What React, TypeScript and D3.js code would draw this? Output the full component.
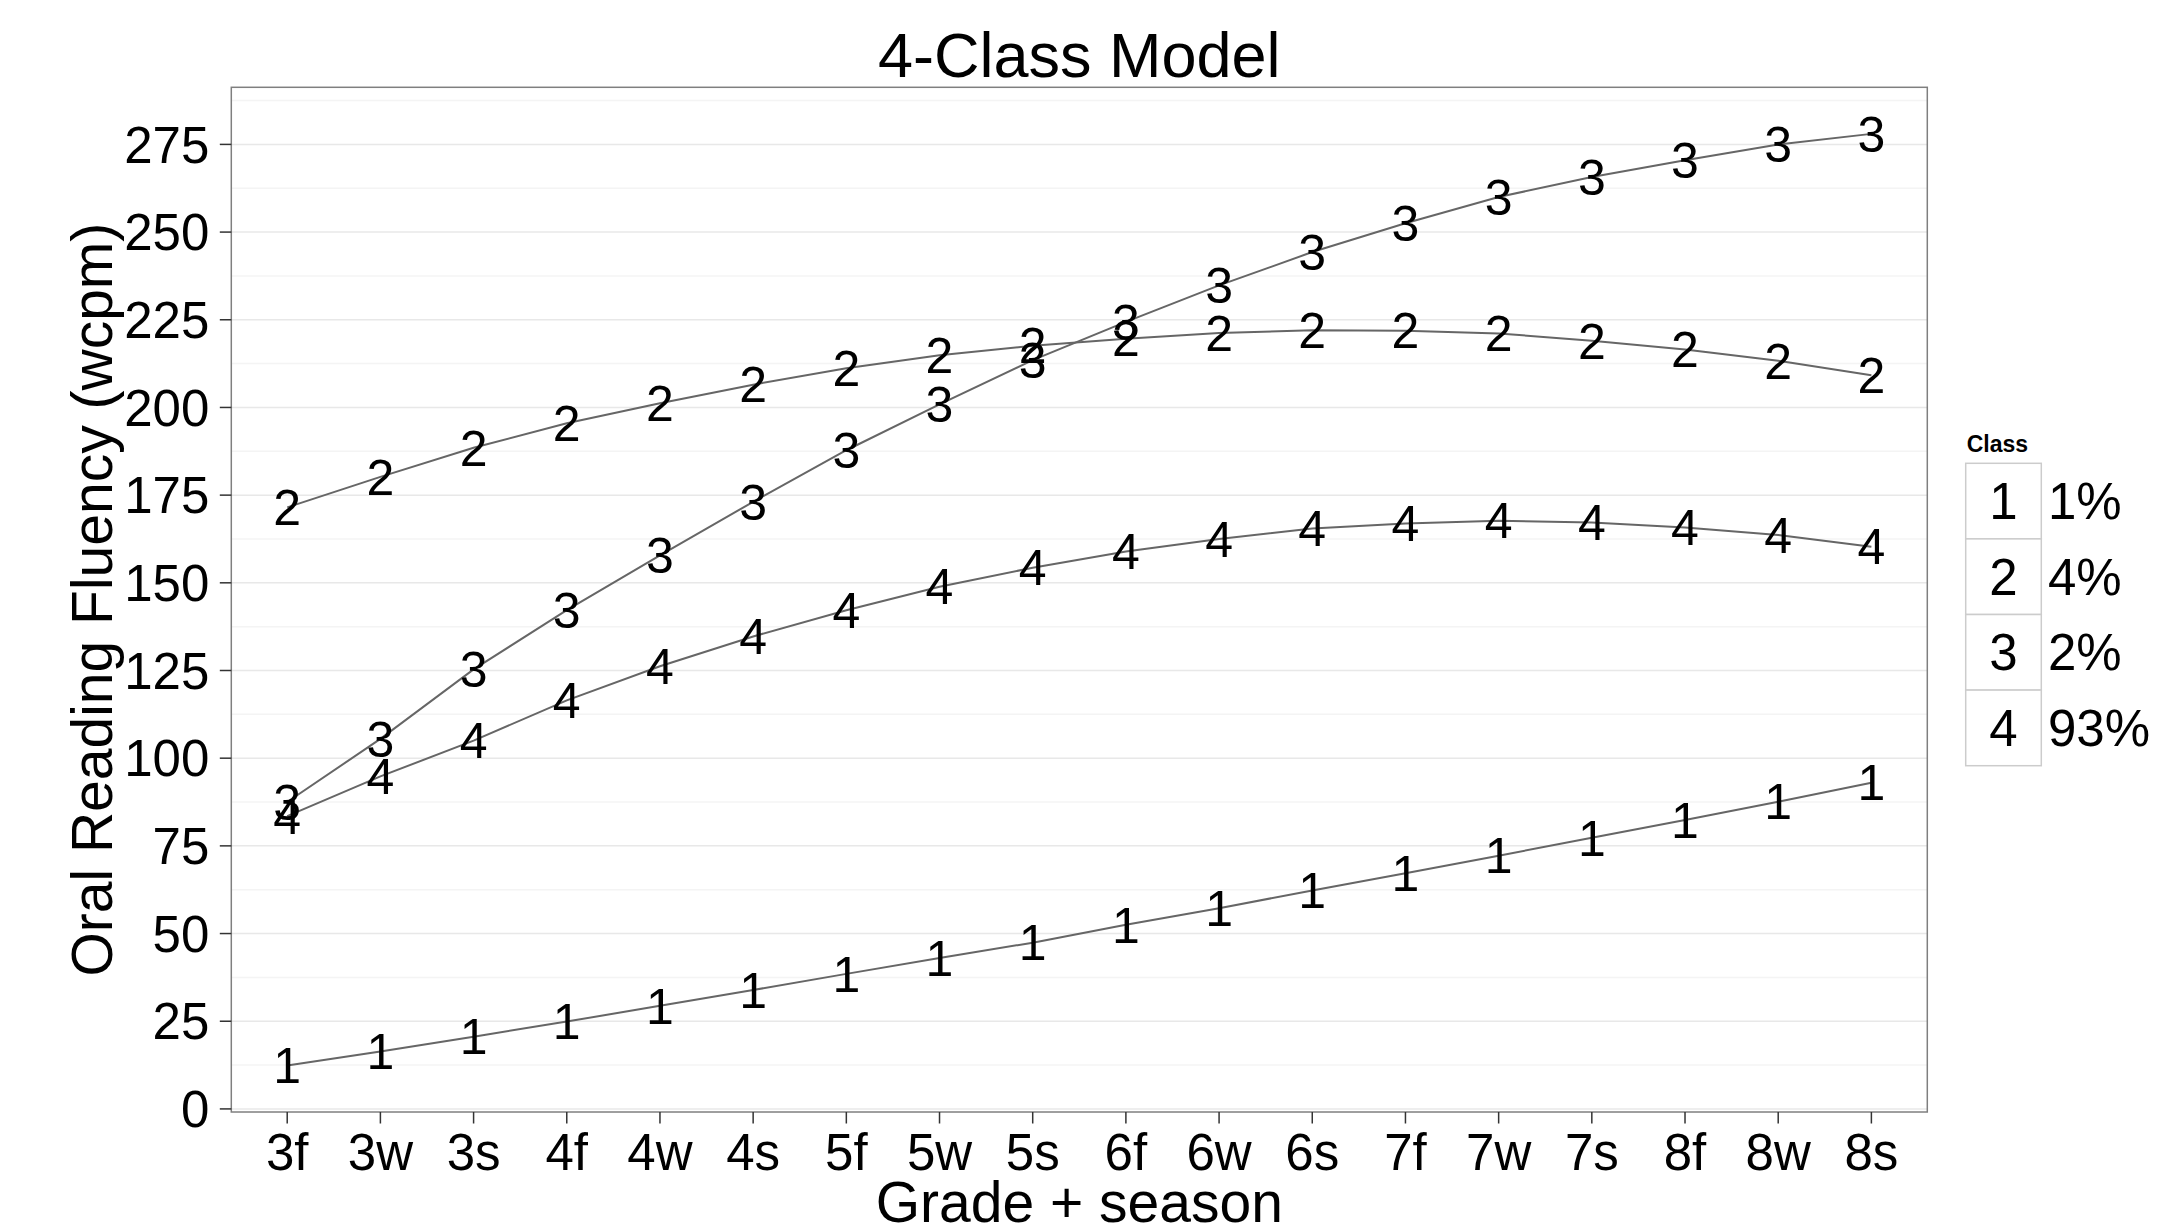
import React from "react";
import * as d3 from "d3";

// grade + season points along the x axis
const grades = ["3f", "3w", "3s", "4f", "4w", "4s", "5f", "5w", "5s", "6f", "6w", "6s", "7f", "7w", "7s", "8f", "8w", "8s"];

// estimated trajectories per latent class (wcpm)
const class1 = [12.4, 16.4, 20.6, 24.9, 29.4, 33.9, 38.5, 43.0, 47.4, 52.5, 57.2, 62.3, 67.2, 72.2, 77.3, 82.4, 87.6, 93.0];
const class2 = [171.5, 180.2, 188.5, 195.5, 201.2, 206.5, 211.2, 214.9, 217.6, 219.6, 221.2, 222.0, 221.9, 221.1, 219.0, 216.5, 213.3, 209.2];
const class3 = [87.5, 105.5, 125.3, 142.2, 157.8, 173.1, 187.8, 200.9, 213.5, 224.4, 234.8, 244.3, 252.5, 260.0, 265.7, 270.5, 275.0, 278.0];
const class4 = [83.5, 94.8, 105.0, 116.5, 126.2, 134.7, 142.2, 148.9, 154.3, 158.9, 162.5, 165.5, 166.9, 167.7, 167.2, 165.8, 163.6, 160.3];

const classLabels = ["1", "2", "3", "4"];
const classShares = ["1%", "4%", "2%", "93%"];
const yTicks = [0, 25, 50, 75, 100, 125, 150, 175, 200, 225, 250, 275];

const series = [class1, class2, class3, class4];

const W = 2158;
const H = 1229;
const panel = { left: 231.3, top: 87.3, right: 1927.3, bottom: 1112 };
const font = "'Liberation Sans', Arial, Helvetica, sans-serif";

export default function App() {
  const all = series.flat();
  const [lo, hi] = d3.extent(all) as [number, number];
  const pad = (hi - lo) * 0.05; // ggplot-style expansion

  const x = d3.scalePoint<string>().domain(grades).range([panel.left, panel.right]).padding(0.6);
  const y = d3.scaleLinear().domain([lo - pad, hi + pad]).range([panel.bottom, panel.top]);

  const minorTicks = yTicks.map((t) => t + 12.5).filter((t) => t <= hi + pad);

  const line = d3
    .line<number>()
    .x((_, i) => x(grades[i]) as number)
    .y((d) => y(d));

  const cx = (panel.left + panel.right) / 2;
  const cy = (panel.top + panel.bottom) / 2;

  const legend = { x: 1965.7, y: 463.3, key: 75.6 };

  return (
    <svg width={W} height={H} style={{ position: "absolute", left: 0, top: 0, background: "#fff" }} fontFamily={font}>
      <rect x={0} y={0} width={W} height={H} fill="#fff" />

      {/* grid */}
      {minorTicks.map((t) => (
        <line key={"m" + t} x1={panel.left} x2={panel.right} y1={y(t)} y2={y(t)} stroke="#f4f4f4" strokeWidth={1.5} />
      ))}
      {yTicks.map((t) => (
        <line key={"g" + t} x1={panel.left} x2={panel.right} y1={y(t)} y2={y(t)} stroke="#e8e8e8" strokeWidth={1.5} />
      ))}

      {/* class lines */}
      {series.map((s, i) => (
        <path key={"l" + i} d={line(s) as string} fill="none" stroke="#666" strokeWidth={2} />
      ))}

      {/* class number labels */}
      {series.map((s, i) =>
        s.map((v, j) => (
          <text key={`t${i}-${j}`} x={x(grades[j])} y={y(v)} dy="0.355em" textAnchor="middle" fontSize={50} fill="#000">
            {classLabels[i]}
          </text>
        ))
      )}

      {/* panel border */}
      <rect
        x={panel.left}
        y={panel.top}
        width={panel.right - panel.left}
        height={panel.bottom - panel.top}
        fill="none"
        stroke="#7f7f7f"
        strokeWidth={1.5}
      />

      {/* y axis */}
      {yTicks.map((t) => (
        <g key={"y" + t}>
          <line x1={panel.left - 11.5} x2={panel.left} y1={y(t)} y2={y(t)} stroke="#333" strokeWidth={1.5} />
          <text x={panel.left - 22} y={y(t)} dy="0.355em" textAnchor="end" fontSize={51} fill="#000">
            {t}
          </text>
        </g>
      ))}

      {/* x axis */}
      {grades.map((g) => (
        <g key={"x" + g}>
          <line x1={x(g)} x2={x(g)} y1={panel.bottom} y2={panel.bottom + 11.5} stroke="#333" strokeWidth={1.5} />
          <text x={x(g)} y={1170} textAnchor="middle" fontSize={51} fill="#000">
            {g}
          </text>
        </g>
      ))}

      {/* titles */}
      <text x={cx} y={76.7} textAnchor="middle" fontSize={63} fill="#000">
        4-Class Model
      </text>
      <text x={cx} y={1221.7} textAnchor="middle" fontSize={57} fill="#000">
        Grade + season
      </text>
      <text transform={`translate(112,${cy}) rotate(-90)`} textAnchor="middle" fontSize={57} fill="#000">
        Oral Reading Fluency (wcpm)
      </text>

      {/* legend */}
      <text x={legend.x + 1} y={451.7} fontSize={23} fontWeight="bold" fill="#000">
        Class
      </text>
      {classLabels.map((c, i) => (
        <g key={"k" + c}>
          <rect
            x={legend.x}
            y={legend.y + i * legend.key}
            width={legend.key}
            height={legend.key}
            fill="#fff"
            stroke="#cccccc"
            strokeWidth={1.5}
          />
          <text x={legend.x + legend.key / 2} y={legend.y + (i + 0.5) * legend.key} dy="0.355em" textAnchor="middle" fontSize={51} fill="#000">
            {c}
          </text>
          <text x={2048} y={legend.y + (i + 0.5) * legend.key} dy="0.355em" fontSize={51} fill="#000">
            {classShares[i]}
          </text>
        </g>
      ))}
    </svg>
  );
}
